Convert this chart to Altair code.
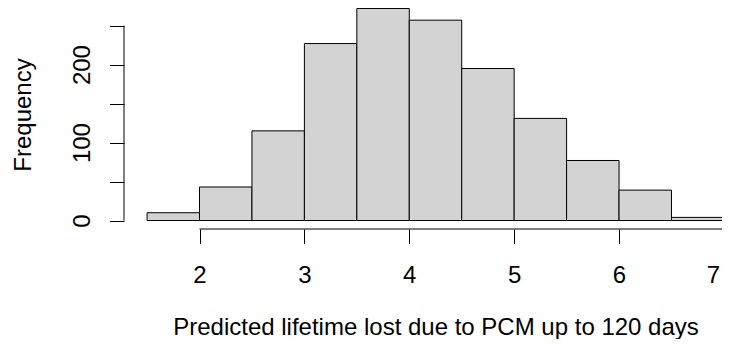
import altair as alt
import pandas as pd

# ---- data ----
bin_start = [1.5, 2.0, 2.5, 3.0, 3.5, 4.0, 4.5, 5.0, 5.5, 6.0, 6.5]
bin_end = [2.0, 2.5, 3.0, 3.5, 4.0, 4.5, 5.0, 5.5, 6.0, 6.5, 7.0]
counts = [10, 43, 115, 227, 272, 257, 195, 131, 77, 39, 4]
x_ticks = [2, 3, 4, 5, 6, 7]
y_ticks = [0, 50, 100, 150, 200, 250]
x_title = "Predicted lifetime lost due to PCM up to 120 days"
y_title = "Frequency"

df = pd.DataFrame({"lo": bin_start, "hi": bin_end, "count": counts})
xaxis_df = pd.DataFrame({"a": [min(x_ticks)], "b": [max(x_ticks)]})
yaxis_df = pd.DataFrame({"a": [min(y_ticks)], "b": [max(y_ticks)]})

# ---- layout (R-like 4% axis extension; plot region partly cropped) ----
FONT = "Liberation Sans"
FS = 24
TICK = 14.4
W = 606          # plot width (px) reaching the window edge
H = 221          # visible plot height (px)
R_W = 623.0      # full R plot-region width
R_H = 229.0      # full R plot-region height

xr_lo = min(bin_start) - 0.04 * (max(bin_end) - min(bin_start))
xr_hi = max(bin_end) + 0.04 * (max(bin_end) - min(bin_start))
x_dom = [xr_lo, xr_lo + (xr_hi - xr_lo) * W / R_W]

yr_lo = -0.04 * max(counts)
yr_hi = 1.04 * max(counts)
y_dom = [yr_lo, yr_lo + (yr_hi - yr_lo) * H / R_H]

xs = alt.Scale(domain=x_dom, nice=False, zero=False)
ys = alt.Scale(domain=y_dom, nice=False, zero=False)

last_tick = max(x_ticks)

bars = alt.Chart(df).mark_rect(
    fill="#D3D3D3", stroke="black", strokeWidth=1
).encode(
    x=alt.X(
        "lo:Q", scale=xs,
        axis=alt.Axis(
            values=x_ticks, format="d", title=x_title,
            labelBaseline="alphabetic", labelAlign="center",
            labelOffset=alt.ExprRef(expr=f"datum.value === {last_tick} ? -11 : 0"),
            labelPadding=38.6, labelFlush=False, labelOverlap=False,
            titleX=311.5, titleY=105, titleBaseline="alphabetic",
            titleAlign="center", titleAngle=0,
        ),
    ),
    x2="hi:Q",
    y=alt.Y(
        "count:Q", scale=ys,
        axis=alt.Axis(
            values=y_ticks, title=y_title,
            labelExpr="datum.value % 100 === 0 ? datum.label : ''",
            labelAngle=270, labelAlign="center", labelBaseline="alphabetic",
            labelPadding=20.3, labelOverlap=False, labelFlush=False,
            titleAngle=270, titleX=-94, titleY=106.5,
            titleBaseline="alphabetic", titleAlign="center",
        ),
    ),
    y2=alt.datum(0),
)

xline = alt.Chart(xaxis_df).mark_rule(color="black", strokeWidth=1).encode(
    x=alt.X("a:Q", scale=xs), x2="b:Q", y=alt.value(H)
)
yline = alt.Chart(yaxis_df).mark_rule(color="black", strokeWidth=1).encode(
    y=alt.Y("a:Q", scale=ys), y2="b:Q", x=alt.value(0)
)

chart = alt.layer(bars, xline, yline).properties(
    width=W, height=H,
    autosize=alt.AutoSizeParams(type="none"),
    padding={"left": 116, "top": 0, "right": -8, "bottom": 110},
).configure_view(stroke=None).configure_axis(
    domain=False, grid=False,
    tickSize=TICK, tickColor="black", tickWidth=1,
    labelFont=FONT, labelFontSize=FS, labelColor="black",
    titleFont=FONT, titleFontSize=FS, titleColor="black", titleFontWeight="normal",
)

chart.save("out.html", embed_options={"renderer": "svg", "actions": False})
